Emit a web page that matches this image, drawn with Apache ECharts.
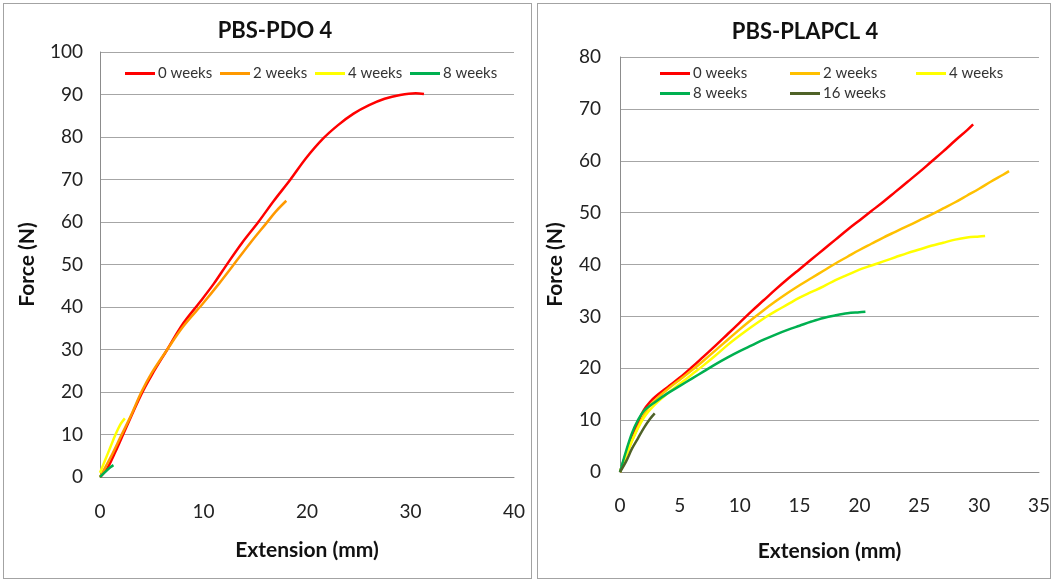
<!DOCTYPE html>
<html>
<head>
<meta charset="utf-8">
<script src="https://cdn.jsdelivr.net/npm/echarts@6/dist/echarts.min.js"></script>
<style>
  body { margin: 0; width: 1053px; height: 581px; background: #fff; overflow: hidden; position: relative; }
  .box { position: absolute; border: 1px solid #a3a3a3; box-sizing: border-box; }
  .chart { position: absolute; top: 0; height: 581px; }
</style>
</head>
<body>
<div class="box" style="left:3px;top:3px;width:529px;height:576px;"></div>
<div class="box" style="left:537px;top:3px;width:514px;height:576px;"></div>
<div id="chartLeft" class="chart" style="left:0;width:534px;"></div>
<div id="chartRight" class="chart" style="left:534px;width:519px;"></div>
<script>
// PBS-PDO 4  [extension mm, force N]
const pdoWeek0 = [[0,0],[0.7,2],[1.5,6],[2.5,11.5],[4,19.5],[5,24],[6.5,30],[8,36],[9.6,41],[11,45.5],[12.2,49.8],[13.7,55],[15.3,60],[16.8,65],[18.4,70],[19.9,75],[21.5,79.5],[23,82.8],[24.5,85.5],[26,87.5],[27.5,89],[29,89.9],[30.5,90.3],[31.3,90.1]];
const pdoWeek2 = [[0,0],[1,4.5],[2,9.5],[3,14.5],[4,20],[5,24.5],[6.5,30],[8,35.3],[10,41],[11.5,45.5],[12.8,49.6],[14.5,55],[16.1,59.8],[17,62.5],[18,65]];
const pdoWeek4 = [[0,1],[0.5,4],[1,7],[1.5,10],[2,12.5],[2.4,13.8]];
const pdoWeek8 = [[0,0],[0.5,1.2],[1,2.3],[1.3,2.8]];

// PBS-PLAPCL 4
const plaWeek0 = [[0,0],[0.5,3.5],[1,6.5],[1.5,9.5],[2,12],[2.5,13.5],[3,14.6],[4,16.4],[5,18.2],[6,20.2],[7,22.3],[8,24.4],[9,26.6],[10,28.8],[11,31],[12,33.1],[13,35.2],[14,37.2],[15,39.1],[16,41],[17,42.9],[18,44.8],[19,46.7],[20,48.5],[21,50.3],[22,52.1],[23,54],[24,55.9],[25,57.8],[26,59.8],[27,61.8],[28,63.9],[29,65.9],[29.5,67]];
const plaWeek2 = [[0,0],[1,6],[2,11],[2.5,12.8],[3,14],[4,16],[5,17.8],[6,19.6],[7,21.5],[8,23.5],[9,25.5],[10,27.5],[11,29.4],[12,31.2],[13,32.9],[14,34.5],[15,36],[16,37.4],[17,38.8],[18,40.2],[19,41.5],[20,42.8],[21,44],[22,45.2],[23,46.3],[24,47.4],[25,48.5],[26,49.6],[27,50.8],[28,52],[29,53.3],[30,54.6],[31,56],[32,57.3],[32.5,58]];
const plaWeek4 = [[0,0],[1,6],[2,10.5],[3,13.2],[4,15.2],[5,17],[6,18.8],[7,20.6],[8,22.5],[9,24.5],[10,26.3],[11,28],[12,29.6],[13,31],[14,32.3],[15,33.6],[16,34.7],[17,35.8],[18,37],[19,38],[20,39],[21,39.8],[22,40.6],[23,41.4],[24,42.2],[25,42.9],[26,43.6],[27,44.2],[28,44.8],[29,45.2],[30,45.4],[30.5,45.5]];
const plaWeek8 = [[0,0],[0.5,4],[1,7.5],[1.5,10],[2,11.8],[3,13.6],[4,15.2],[5,16.6],[6,18],[7,19.4],[8,20.8],[9,22.1],[10,23.3],[11,24.4],[12,25.5],[13,26.5],[14,27.4],[15,28.2],[16,29],[17,29.7],[18,30.2],[19,30.6],[20,30.8],[20.5,30.9]];
const plaWeek16 = [[0,0],[0.5,2],[1,4.5],[1.5,6.5],[2,8.5],[2.5,10.2],[2.9,11.3]];

const pdoNames = ['0 weeks', '2 weeks', '4 weeks', '8 weeks']
const pdoColors = ['#ff0000', '#ff9900', '#ffff00', '#00b050']
const plaNames = ['0 weeks', '2 weeks', '4 weeks', '8 weeks', '16 weeks']
const plaColors = ['#ff0000', '#ffc000', '#ffff00', '#00b050', '#4f6228']

const font = 'Lato, "Open Sans", sans-serif'

function line(name, color, data) {
  return {
    name: name, type: 'line', data: data,
    showSymbol: false, smooth: 0.35,
    lineStyle: { color: color, width: 2.5 },
    itemStyle: { color: color }
  }
}

function legendItem(name, left, top) {
  return {
    data: [name], left: left, top: top, padding: 0,
    icon: 'rect', itemWidth: 30, itemHeight: 3, itemGap: 0,
    textStyle: { fontFamily: font, fontSize: 15, color: '#333', padding: [0, 0, 0, -2] },
    selectedMode: false
  }
}

function axisBase(min, max, interval, name, gap, labelMargin) {
  return {
    type: 'value', min: min, max: max, interval: interval,
    name: name, nameLocation: 'middle', nameGap: gap,
    nameTextStyle: { fontFamily: font, fontSize: 21, fontWeight: 'bold', color: '#111' },
    axisLine: { show: true, lineStyle: { color: '#8c8c8c', width: 1 } },
    axisTick: { show: false },
    axisLabel: { fontFamily: font, fontSize: 19, color: '#222', margin: labelMargin },
    splitLine: { show: false }
  }
}

// left chart
let leftChart = echarts.init(document.getElementById('chartLeft'))
let leftY = axisBase(0, 100, 10, 'Force (N)', 62, 17)
leftY.splitLine = { show: true, lineStyle: { color: '#a6a6a6', width: 1 } }
leftChart.setOption({
  animation: false,
  title: {
    text: 'PBS-PDO 4', left: 270, top: 15, textAlign: 'center',
    textStyle: { fontFamily: font, fontSize: 22, fontWeight: 'bold', color: '#111' }
  },
  legend: [
    legendItem(pdoNames[0], 125, 66),
    legendItem(pdoNames[1], 220, 66),
    legendItem(pdoNames[2], 315, 66),
    legendItem(pdoNames[3], 410, 66)
  ],
  grid: { left: 100, top: 52, width: 414, height: 425 },
  xAxis: axisBase(0, 40, 10, 'Extension (mm)', 63, 25),
  yAxis: leftY,
  series: [
    line(pdoNames[0], pdoColors[0], pdoWeek0),
    line(pdoNames[1], pdoColors[1], pdoWeek2),
    line(pdoNames[2], pdoColors[2], pdoWeek4),
    line(pdoNames[3], pdoColors[3], pdoWeek8)
  ]
})

// right chart
let rightChart = echarts.init(document.getElementById('chartRight'))
let rightY = axisBase(0, 80, 10, 'Force (N)', 54, 19)
rightY.splitLine = { show: true, lineStyle: { color: '#a6a6a6', width: 1 } }
rightChart.setOption({
  animation: false,
  title: {
    text: 'PBS-PLAPCL 4', left: 266, top: 16, textAlign: 'center',
    textStyle: { fontFamily: font, fontSize: 22, fontWeight: 'bold', color: '#111' }
  },
  legend: [
    legendItem(plaNames[0], 126, 66),
    legendItem(plaNames[1], 256, 66),
    legendItem(plaNames[2], 382, 66),
    legendItem(plaNames[3], 126, 86),
    legendItem(plaNames[4], 256, 86)
  ],
  grid: { left: 86, top: 57, width: 420, height: 415 },
  xAxis: axisBase(0, 35, 5, 'Extension (mm)', 69, 24),
  yAxis: rightY,
  series: [
    line(plaNames[0], plaColors[0], plaWeek0),
    line(plaNames[1], plaColors[1], plaWeek2),
    line(plaNames[2], plaColors[2], plaWeek4),
    line(plaNames[3], plaColors[3], plaWeek8),
    line(plaNames[4], plaColors[4], plaWeek16)
  ]
})
</script>
</body>
</html>
